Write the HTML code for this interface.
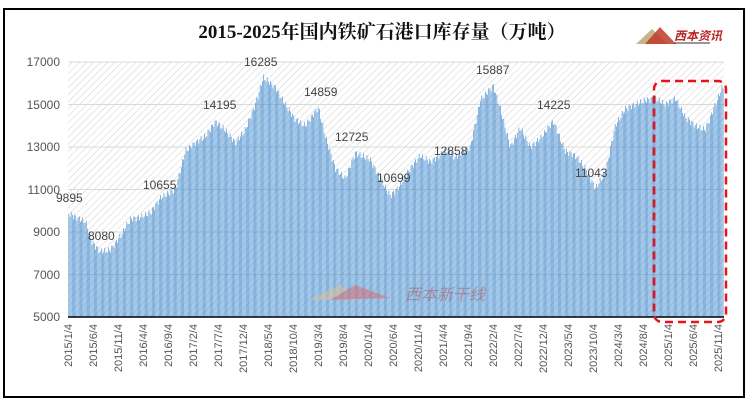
<!DOCTYPE html>
<html><head><meta charset="utf-8"><style>
body{margin:0;background:#fff;width:748px;height:405px;overflow:hidden}
svg{display:block}
</style></head><body>
<svg id="s" width="748" height="405" xmlns="http://www.w3.org/2000/svg">
<defs>
<pattern id="h" width="5" height="5" patternUnits="userSpaceOnUse" patternTransform="rotate(45)">
<line x1="0" y1="0" x2="0" y2="5" stroke="#cfcfcf" stroke-width="1"/>
</pattern>
</defs>
<rect x="4" y="9" width="740" height="388" fill="#fff" stroke="#000" stroke-width="2"/>
<text x="382" y="38" text-anchor="middle" font-family="Liberation Serif, 'Noto Serif CJK SC', serif" font-size="19" font-weight="bold" fill="#111">2015-2025年国内铁矿石港口库存量（万吨）</text>
<g>
<polygon points="636,44 652,29 668,44" fill="#c9b48a"/>
<polygon points="645,44 660,27 676,44" fill="#c0392b" opacity="0.85"/>
<text x="674" y="40" font-family="'Noto Sans CJK SC',sans-serif" font-size="12" font-style="italic" font-weight="bold" fill="#b22">西本资讯</text>
<line x1="674" y1="43" x2="710" y2="43" stroke="#333"/>
</g>
<rect x="68" y="62" width="656" height="255" fill="url(#h)"/>
<g stroke="#d9d9d9" stroke-width="1">
<line x1="68" y1="62" x2="724" y2="62"/><line x1="68" y1="104.5" x2="724" y2="104.5"/>
<line x1="68" y1="147" x2="724" y2="147"/><line x1="68" y1="189.5" x2="724" y2="189.5"/>
<line x1="68" y1="232" x2="724" y2="232"/><line x1="68" y1="274.5" x2="724" y2="274.5"/>
</g>
<g id="bars"></g>
<line x1="68" y1="317" x2="724" y2="317" stroke="#000" stroke-width="1.5"/>
<g font-family="Liberation Sans, sans-serif" font-size="12" fill="#555" text-anchor="end">
<text x="60" y="66">17000</text><text x="60" y="109">15000</text><text x="60" y="151">13000</text>
<text x="60" y="194">11000</text><text x="60" y="236">9000</text><text x="60" y="279">7000</text><text x="60" y="321">5000</text>
</g>
<g id="xl" font-family="Liberation Sans, sans-serif" font-size="11" fill="#555"></g>
<g font-family="Liberation Sans, sans-serif" font-size="12" fill="#444">
<text x="56" y="202">9895</text><text x="88" y="240">8080</text><text x="143" y="189">10655</text>
<text x="203" y="109">14195</text><text x="244" y="66">16285</text><text x="304" y="96">14859</text>
<text x="335" y="141">12725</text><text x="377" y="182">10699</text><text x="434" y="155">12858</text>
<text x="476" y="74">15887</text><text x="537" y="109">14225</text><text x="575" y="177">11043</text>
</g>
<rect x="654" y="81" width="72" height="241" rx="8" fill="none" stroke="#e8121b" stroke-width="2.5" stroke-dasharray="8,5"/>
<g opacity="0.5">
<polygon points="310,300 340,285 360,300" fill="#e0c090"/>
<polygon points="330,300 355,285 390,298" fill="#d66"/>
<text x="405" y="300" font-family="'Noto Sans CJK SC',sans-serif" font-size="16" font-style="italic" fill="#a55">西本新干线</text>
</g>
</svg>
<script>
var P=[[68,9895],[75,9700],[85,9500],[92,8500],[100,8080],[110,8150],[120,8800],[130,9600],[140,9700],[150,9900],[160,10600],[175,11000],[185,12800],[195,13200],[205,13500],[215,14195],[225,13800],[235,13200],[245,13800],[255,15000],[263,16285],[275,15800],[285,15000],[295,14300],[305,14000],[318,14859],[325,13500],[335,12000],[345,11500],[355,12725],[370,12400],[380,11500],[390,10699],[400,11200],[410,12000],[420,12600],[430,12300],[447,12858],[455,12500],[470,13000],[480,15200],[493,15887],[500,14800],[510,13000],[520,13900],[530,13000],[540,13400],[553,14225],[565,12800],[575,12600],[585,12000],[595,11043],[605,11800],[615,14000],[625,14800],[635,15000],[645,15200],[655,15300],[665,15000],[675,15300],[685,14400],[695,14000],[705,13800],[715,15000],[722,15800]];
function v(x){for(var i=1;i<P.length;i++){if(x<=P[i][0]){var a=P[i-1],b=P[i];return a[1]+(b[1]-a[1])*(x-a[0])/(b[0]-a[0]);}}return P[P.length-1][1];}
var g=document.getElementById('bars'),h='';
for(var x=68.5;x<723;x+=1.16){var val=v(x)+Math.sin(x*1.7)*150;var y=317-(val-5000)*255/12000;
h+='<rect x="'+x.toFixed(2)+'" y="'+y.toFixed(1)+'" width="0.65" height="'+(317-y).toFixed(1)+'" fill="#4a8fd0"/>';}
g.innerHTML=h;
var L=['2015/1/4','2015/6/4','2015/11/4','2016/4/4','2016/9/4','2017/2/4','2017/7/4','2017/12/4','2018/5/4','2018/10/4','2019/3/4','2019/8/4','2020/1/4','2020/6/4','2020/11/4','2021/4/4','2021/9/4','2022/2/4','2022/7/4','2022/12/4','2023/5/4','2023/10/4','2024/3/4','2024/8/4','2025/1/4','2025/6/4','2025/11/4'];
var xl=document.getElementById('xl'),t='';
for(var i=0;i<L.length;i++){var px=72+i*25;t+='<text transform="translate('+px+',324) rotate(-90)" text-anchor="end">'+L[i]+'</text>';}
xl.innerHTML=t;
</script>
</body></html>
